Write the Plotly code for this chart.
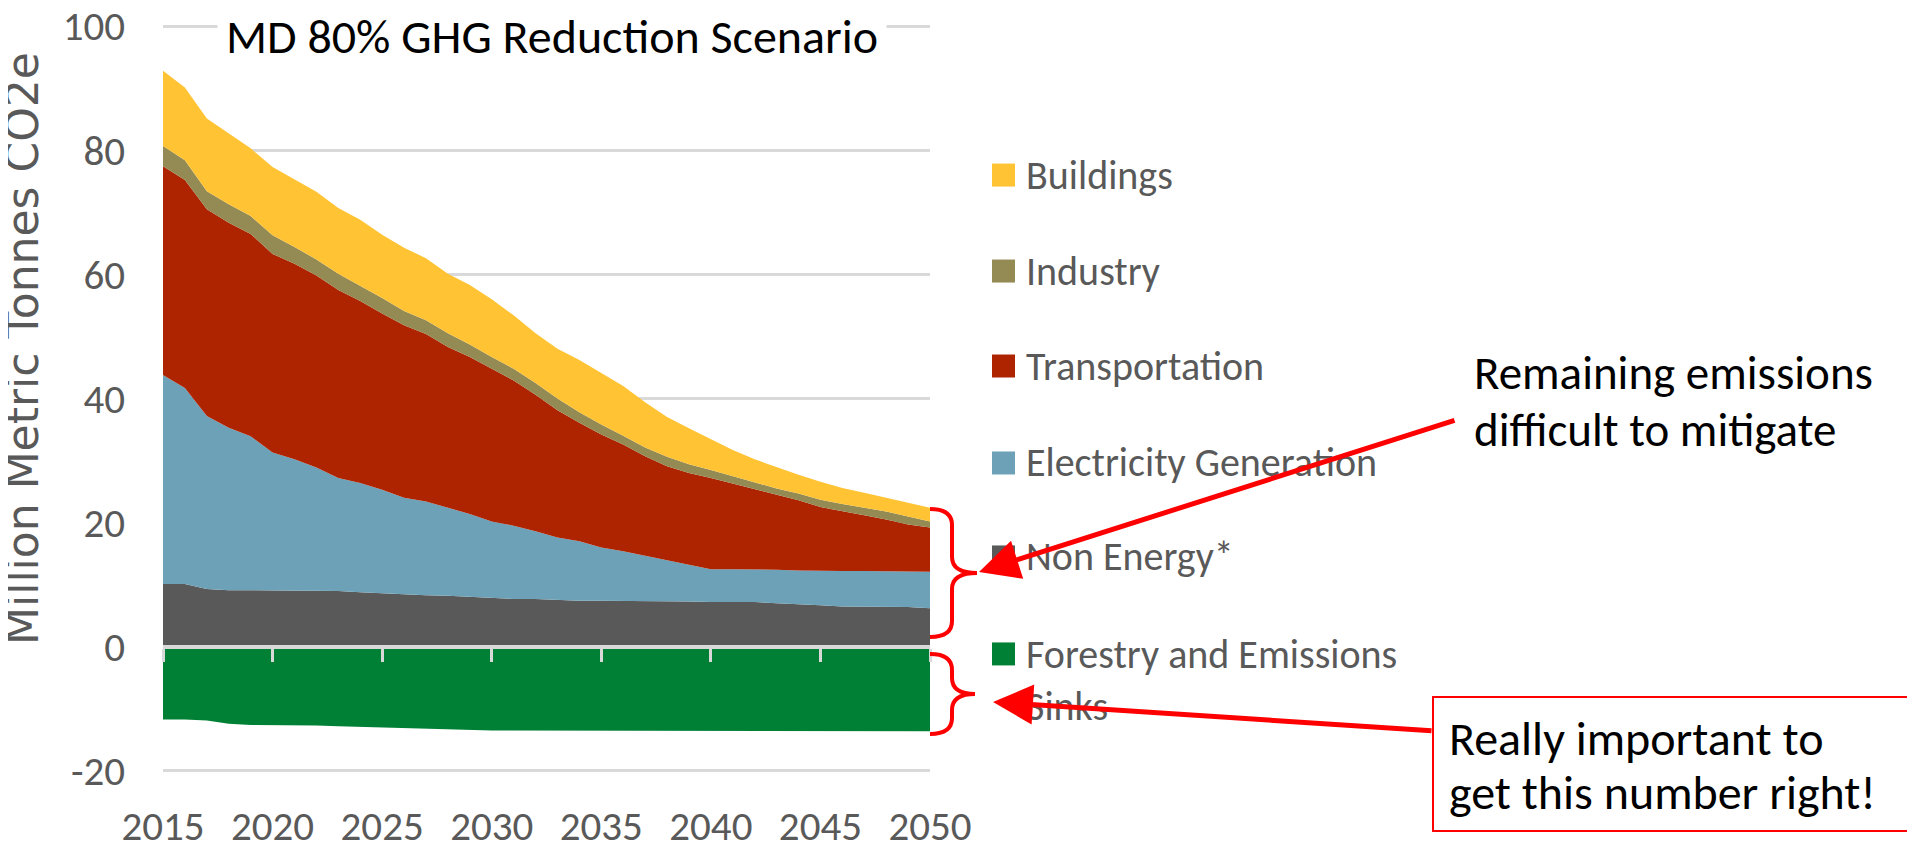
import plotly.graph_objects as go

years = list(range(2015, 2051))

non_energy = [10.1, 10.1, 9.3, 9.1, 9.1, 9.1, 9.0, 9.0, 9.0, 8.8, 8.6, 8.4, 8.3, 8.2, 8.0, 7.9,
              7.7, 7.7, 7.5, 7.4, 7.4, 7.4, 7.4, 7.4, 7.3, 7.2, 7.2, 7.2, 7.0, 6.9, 6.7, 6.5,
              6.5, 6.5, 6.4, 6.2]
electricity = [33.7, 31.6, 27.9, 26.2, 24.8, 22.2, 21.2, 19.9, 18.2, 17.6, 16.7, 15.6, 15.1, 14.2,
               13.4, 12.3, 11.8, 10.9, 10.1, 9.6, 8.6, 8.0, 7.3, 6.5, 5.9, 5.3, 5.3, 5.3, 5.4,
               5.4, 5.5, 5.7, 5.7, 5.7, 5.8, 5.9]
transportation = [33.6, 33.5, 33.3, 33.0, 32.6, 32.0, 31.5, 30.9, 30.3, 29.3, 28.4, 27.8, 27.0,
                  25.9, 25.3, 24.6, 23.4, 22.0, 20.5, 19.1, 18.2, 17.2, 16.0, 15.2, 14.8, 14.7,
                  13.8, 12.8, 12.0, 11.3, 10.3, 9.7, 9.0, 8.3, 7.5, 7.1]
industry = [3.3, 3.2, 2.9, 3.0, 2.9, 3.0, 2.7, 2.6, 2.6, 2.5, 2.5, 2.3, 2.2, 2.2, 2.0, 1.9, 1.9,
            1.9, 1.9, 1.7, 1.6, 1.4, 1.4, 1.5, 1.4, 1.3, 1.2, 1.2, 1.1, 1.1, 1.2, 1.1, 1.2, 1.3,
            1.3, 1.0]
buildings = [12.1, 11.7, 11.7, 11.4, 10.9, 11.0, 10.9, 10.9, 10.6, 10.6, 10.2, 10.2, 10.0, 9.6,
             9.6, 9.3, 8.6, 8.0, 8.0, 8.4, 8.3, 8.0, 7.3, 6.4, 5.8, 4.9, 4.2, 3.7, 3.4, 3.0, 2.9,
             2.6, 2.4, 2.2, 2.1, 2.2]
forestry = [-11.7, -11.7, -11.9, -12.4, -12.6, -12.6, -12.7, -12.7, -12.8, -12.9, -13.0, -13.2,
            -13.2, -13.3, -13.4, -13.5, -13.5, -13.5, -13.5, -13.5, -13.5, -13.5, -13.5, -13.5,
            -13.5, -13.5, -13.5, -13.5, -13.5, -13.5, -13.5, -13.5, -13.5, -13.5, -13.5, -13.6]

legend_labels = ["Buildings", "Industry", "Transportation", "Electricity Generation",
                 "Non Energy*", "Forestry and Emissions<br>Sinks"]
y_ticks = [-20, 0, 20, 40, 60, 80, 100]
y_ticktext = ["-20", "0", "20", "40", "60", "80", "100"]
x_ticks = [2015, 2020, 2025, 2030, 2035, 2040, 2045, 2050]
callout_top = ["Remaining emissions", "difficult to mitigate"]
callout_bottom = ["Really important to", "get this number right!"]

C_BLD = "#FFC333"
C_IND = "#948A54"
C_TRA = "#AE2300"
C_ELE = "#6CA1B7"
C_NON = "#595959"
C_FOR = "#008035"
legend_colors = [C_BLD, C_IND, C_TRA, C_ELE, C_NON, C_FOR]

FONT = "Carlito, Lato, sans-serif"
GRAY = "#595959"

# plot-area geometry in page pixels (y range padded half a unit so edge gridlines show)
W, H = 1915, 844
OFF = 8  # default page body margin
Y0, Y1 = -20.5, 100.5
K = (771 - 26) / 120.0
L, R = 163, 930
T = 26 - (Y1 - 100) * K
B = 771 + (-20 - Y0) * K


def px(x):
    return (x - L) / (R - L)


def py(y):
    return (B - y) / (B - T)


fig = go.Figure()

fig.add_trace(go.Scatter(x=years, y=forestry, name="Forestry and Emissions Sinks",
                         mode="lines", line=dict(width=0), fill="tozeroy",
                         fillcolor=C_FOR, xaxis="x2", yaxis="y", hoverinfo="x+y"))
for name, vals, col in [("Non Energy*", non_energy, C_NON),
                        ("Electricity Generation", electricity, C_ELE),
                        ("Transportation", transportation, C_TRA),
                        ("Industry", industry, C_IND),
                        ("Buildings", buildings, C_BLD)]:
    fig.add_trace(go.Scatter(x=years, y=vals, name=name, mode="lines",
                             line=dict(width=0), stackgroup="pos", fillcolor=col,
                             hoverinfo="x+y"))

fig.update_layout(
    width=W, height=H,
    margin=dict(l=L - OFF, r=W - (R - OFF), t=T - OFF, b=H - (B - OFF), autoexpand=False),
    paper_bgcolor="white", plot_bgcolor="white",
    showlegend=False,
    xaxis=dict(range=[2015, 2050], tickvals=x_ticks, showgrid=False, zeroline=False,
               showline=False, ticks="", automargin=False, ticklabeloverflow="allow",
               tickfont=dict(family=FONT, size=41, color=GRAY), ticklabelstandoff=24),
    xaxis2=dict(range=[2015, 2050], overlaying="x", anchor="free",
                position=(0 - Y0) / (Y1 - Y0), automargin=False,
                tickvals=x_ticks, showticklabels=False, showgrid=False, zeroline=False,
                showline=True, linecolor="#D9D9D9", linewidth=4,
                ticks="outside", ticklen=13, tickwidth=3, tickcolor="#D9D9D9",
                layer="above traces"),
    yaxis=dict(range=[Y0, Y1], tickvals=y_ticks, ticktext=y_ticktext, showgrid=True,
               gridcolor="#D9D9D9", gridwidth=3, zeroline=False, showline=False, ticks="",
               automargin=False, ticklabeloverflow="allow",
               tickfont=dict(family=FONT, size=41, color=GRAY), ticklabelstandoff=37),
)

annotations = []
shapes = []

# chart title with white background over the top gridline
annotations.append(dict(text="MD 80% GHG Reduction Scenario", x=px(552), y=py(36),
                        xref="paper", yref="paper", xanchor="center", yanchor="middle",
                        showarrow=False, bgcolor="white", borderpad=8,
                        font=dict(family=FONT, size=48, color="black")))

# y axis title
annotations.append(dict(text="Million Metric Tonnes CO2e", x=px(22), y=py(349),
                        xref="paper", yref="paper", xanchor="center", yanchor="middle",
                        textangle=-90, showarrow=False,
                        font=dict(family="DejaVu Sans", size=44, color=GRAY)))

# legend (manual, to match square markers)
row_y = [175, 271, 366, 463, 557, 654]
for lab, col, yy in zip(legend_labels, legend_colors, row_y):
    shapes.append(dict(type="rect", xref="paper", yref="paper",
                       x0=px(992), x1=px(1015), y0=py(yy + 11.5), y1=py(yy - 11.5),
                       fillcolor=col, line=dict(width=0)))
    if "<br>" in lab:
        annotations.append(dict(text=lab, x=px(1024), y=py(yy - 26), xref="paper",
                                yref="paper", xanchor="left", yanchor="top", align="left",
                                showarrow=False,
                                font=dict(family=FONT, size=40, color=GRAY)))
    else:
        annotations.append(dict(text=lab, x=px(1024), y=py(yy), xref="paper", yref="paper",
                                xanchor="left", yanchor="middle", showarrow=False,
                                font=dict(family=FONT, size=40, color=GRAY)))

# callout texts (one annotation per line for exact spacing)
for line, yy in zip(callout_top, [373, 430]):
    annotations.append(dict(text=line, x=px(1472), y=py(yy), xref="paper", yref="paper",
                            xanchor="left", yanchor="middle", showarrow=False,
                            font=dict(family=FONT, size=47, color="black")))
for line, yy in zip(callout_bottom, [739, 793]):
    annotations.append(dict(text=line, x=px(1447), y=py(yy), xref="paper", yref="paper",
                            xanchor="left", yanchor="middle", showarrow=False,
                            font=dict(family=FONT, size=48, color="black")))
shapes.append(dict(type="rect", xref="paper", yref="paper", x0=px(1433), x1=px(1908),
                   y0=py(697), y1=py(831), line=dict(color="#FF0000", width=2),
                   fillcolor="rgba(0,0,0,0)"))


def brace(x0, xm, xt, y0, ym, y1, r=16):
    pts = [(x0, y0), (xm, y0), (xm, y0 + r), (xm, ym - r), (xm, ym), (xt, ym),
           (xm, ym), (xm, ym + r), (xm, y1 - r), (xm, y1), (x0, y1)]
    p = [(px(a), py(b)) for a, b in pts]
    return ("M {0[0]},{0[1]} Q {1[0]},{1[1]} {2[0]},{2[1]} L {3[0]},{3[1]} "
            "Q {4[0]},{4[1]} {5[0]},{5[1]} Q {6[0]},{6[1]} {7[0]},{7[1]} "
            "L {8[0]},{8[1]} Q {9[0]},{9[1]} {10[0]},{10[1]}").format(*p)


shapes.append(dict(type="path", xref="paper", yref="paper",
                   path=brace(930, 952, 977, 509, 573, 637),
                   line=dict(color="#FF0000", width=4)))
shapes.append(dict(type="path", xref="paper", yref="paper",
                   path=brace(930, 952, 975, 654, 694, 734),
                   line=dict(color="#FF0000", width=4)))

# arrows (tip at x/y, tail offset in pixels)
for tip, tail in [((979, 572), (1456, 420)), ((993, 702), (1433, 731))]:
    annotations.append(dict(text="", x=px(tip[0]), y=py(tip[1]), xref="paper", yref="paper",
                            ax=tail[0] - tip[0], ay=tail[1] - tip[1],
                            showarrow=True, arrowhead=2, arrowsize=1.6, arrowwidth=5,
                            arrowcolor="#FF0000", standoff=0))

fig.update_layout(annotations=annotations, shapes=shapes)

fig.write_html("out.html")
